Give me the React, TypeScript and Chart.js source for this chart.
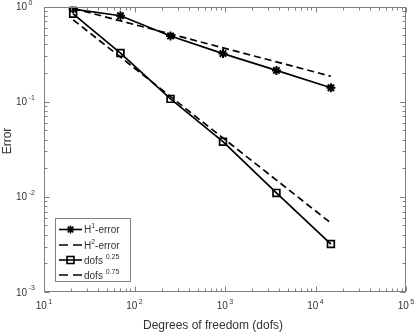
import React, { useEffect, useRef } from "react";
import { Chart, registerables } from "chart.js";

Chart.register(...registerables);

const dofs = [21, 70, 250, 950, 3700, 14800];
const h1Error = [0.94, 0.8, 0.49, 0.32, 0.213, 0.14];
const h2Error = [0.838, 0.324, 0.107, 0.038, 0.011, 0.00319];
const refQuarter = [0.955, 0.706, 0.514, 0.368, 0.262, 0.185];
const refThreeQuarter = [0.724, 0.294, 0.113, 0.0415, 0.015, 0.0053];

const xDecades = [1, 2, 3, 4, 5];
const yDecades = [0, -1, -2, -3];
const xTitle = "Degrees of freedom (dofs)";
const yTitle = "Error";

type Seg = { t: string; sup?: boolean };
const legendItems: { segs: Seg[]; dashed: boolean; marker: string | null }[] = [
  { segs: [{ t: "H" }, { t: "1", sup: true }, { t: "-error" }], dashed: false, marker: "star" },
  { segs: [{ t: "H" }, { t: "2", sup: true }, { t: "-error" }], dashed: true, marker: null },
  { segs: [{ t: "dofs " }, { t: "0.25", sup: true }], dashed: false, marker: "rect" },
  { segs: [{ t: "dofs " }, { t: "0.75", sup: true }], dashed: true, marker: null },
];

const FONT = '"Liberation Sans", Arial, Helvetica, sans-serif';
const TEXT = "#333333";
const AXIS = "#808080";

function drawSegs(ctx: CanvasRenderingContext2D, segs: Seg[], x: number, y: number, size: number, supSize: number, supRise: number) {
  let cx = x;
  ctx.textAlign = "left";
  ctx.textBaseline = "alphabetic";
  for (const s of segs) {
    ctx.font = `${s.sup ? supSize : size}px ${FONT}`;
    ctx.fillText(s.t, cx, s.sup ? y - supRise : y);
    cx += ctx.measureText(s.t).width;
  }
  return cx - x;
}

function segsWidth(ctx: CanvasRenderingContext2D, segs: Seg[], size: number, supSize: number) {
  let w = 0;
  for (const s of segs) {
    ctx.font = `${s.sup ? supSize : size}px ${FONT}`;
    w += ctx.measureText(s.t).width;
  }
  return w;
}

const axesPlugin = {
  id: "matlabAxes",
  afterDraw(chart: any) {
    const ctx: CanvasRenderingContext2D = chart.ctx;
    const xs = chart.scales.x;
    const ys = chart.scales.y;
    const a = chart.chartArea;
    ctx.save();
    ctx.strokeStyle = AXIS;
    ctx.lineWidth = 1;
    const L = Math.round(a.left) + 0.5;
    const R = Math.round(a.right) - 0.5;
    const T = Math.round(a.top) + 0.5;
    const B = Math.round(a.bottom) - 0.5;
    ctx.strokeRect(L, T, R - L, B - T);
    ctx.beginPath();
    for (const e of xDecades) {
      for (let m = 1; m <= 9; m++) {
        if (m > 1 && e === 5) continue;
        const v = m * Math.pow(10, e);
        const px = Math.round(xs.getPixelForValue(v)) + 0.5;
        const len = m === 1 ? 5 : 3;
        ctx.moveTo(px, B);
        ctx.lineTo(px, B - len);
        ctx.moveTo(px, T);
        ctx.lineTo(px, T + len);
      }
    }
    for (const e of [-3, -2, -1]) {
      for (let m = 1; m <= 10; m++) {
        const v = m * Math.pow(10, e);
        const py = Math.round(ys.getPixelForValue(v)) + 0.5;
        const len = m === 1 || m === 10 ? 5 : 3;
        ctx.moveTo(L, py);
        ctx.lineTo(L + len, py);
        ctx.moveTo(R, py);
        ctx.lineTo(R - len, py);
      }
    }
    ctx.stroke();

    ctx.fillStyle = TEXT;
    ctx.textBaseline = "alphabetic";
    for (const e of xDecades) {
      const px = xs.getPixelForValue(Math.pow(10, e));
      const w = segsWidth(ctx, [{ t: "10" }, { t: String(e), sup: true }], 10, 7) + 1.5;
      let x0 = px - w / 2;
      ctx.font = `10px ${FONT}`;
      ctx.textAlign = "left";
      ctx.fillText("10", x0, a.bottom + 17);
      x0 += ctx.measureText("10").width + 1.5;
      ctx.font = `7px ${FONT}`;
      ctx.fillText(String(e), x0, a.bottom + 11.5);
    }
    for (const e of yDecades) {
      const py = ys.getPixelForValue(Math.pow(10, e));
      ctx.font = `10px ${FONT}`;
      ctx.textAlign = "left";
      ctx.fillText("10", 16, py + 3.5);
      const w = ctx.measureText("10").width;
      ctx.font = `7px ${FONT}`;
      ctx.fillText(String(e), 16 + w + 1.5, py - 2);
    }

    ctx.font = `12px ${FONT}`;
    ctx.textAlign = "center";
    ctx.fillText(xTitle, 213, 329);
    ctx.save();
    ctx.translate(10.5, 141);
    ctx.rotate(-Math.PI / 2);
    ctx.fillText(yTitle, 0, 0);
    ctx.restore();

    const bx = 55.5, by = 218.5, bw = 75, bh = 63;
    ctx.fillStyle = "#ffffff";
    ctx.fillRect(bx, by, bw, bh);
    ctx.strokeStyle = AXIS;
    ctx.lineWidth = 1;
    ctx.strokeRect(bx, by, bw, bh);
    const rows = [229.5, 245, 260, 275];
    legendItems.forEach((it, i) => {
      const y = rows[i];
      ctx.strokeStyle = "#000000";
      ctx.lineWidth = 1.6;
      ctx.setLineDash(it.dashed ? [9, 5] : []);
      ctx.beginPath();
      ctx.moveTo(59, y);
      ctx.lineTo(82, y);
      ctx.stroke();
      ctx.setLineDash([]);
      if (it.marker === "star") {
        ctx.beginPath();
        const r = 4;
        for (let k = 0; k < 4; k++) {
          const ang = (k * Math.PI) / 4;
          ctx.moveTo(70.5 - Math.cos(ang) * r, y - Math.sin(ang) * r);
          ctx.lineTo(70.5 + Math.cos(ang) * r, y + Math.sin(ang) * r);
        }
        ctx.stroke();
      } else if (it.marker === "rect") {
        ctx.strokeRect(67, y - 3.5, 7, 7);
      }
      ctx.fillStyle = TEXT;
      drawSegs(ctx, it.segs, 84, y + 3.5, 10, 7, 5);
    });
    ctx.restore();
  },
};

export default function App() {
  const ref = useRef<HTMLCanvasElement | null>(null);
  useEffect(() => {
    document.body.style.margin = "0";
    const canvas = ref.current;
    if (!canvas) return;
    const pts = (ys: number[]) => dofs.map((x, i) => ({ x, y: ys[i] }));
    const chart = new Chart(canvas, {
      type: "line",
      data: {
        datasets: [
          {
            label: "H1-error",
            data: pts(h1Error),
            borderColor: "#000",
            backgroundColor: "#000",
            borderWidth: 1.7,
            pointStyle: "star",
            pointRadius: 4.5,
            pointBorderWidth: 2,
            pointBorderColor: "#000",
          },
          {
            label: "H2-error",
            data: pts(refQuarter),
            borderColor: "#000",
            borderWidth: 1.7,
            borderDash: [7, 4],
            pointRadius: 0,
          },
          {
            label: "dofs 0.25",
            data: pts(h2Error),
            borderColor: "#000",
            borderWidth: 1.7,
            pointStyle: "rect",
            pointRadius: 4.8,
            pointBorderWidth: 1.7,
            pointBorderColor: "#000",
            pointBackgroundColor: "rgba(0,0,0,0)",
          },
          {
            label: "dofs 0.75",
            data: pts(refThreeQuarter),
            borderColor: "#000",
            borderWidth: 1.7,
            borderDash: [7, 4],
            pointRadius: 0,
          },
        ],
      },
      options: {
        responsive: false,
        animation: false,
        layout: { padding: { left: 44, right: 9, top: 6, bottom: 40 } },
        plugins: { legend: { display: false }, tooltip: { enabled: false } },
        scales: {
          x: { type: "logarithmic", min: 10, max: 1e5, display: false },
          y: { type: "logarithmic", min: 1e-3, max: 1, display: false },
        },
      },
      plugins: [axesPlugin],
    });
    return () => chart.destroy();
  }, []);
  return (
    <div style={{ width: 415, height: 332, background: "#fff" }}>
      <canvas ref={ref} width={415} height={332} style={{ display: "block" }} />
    </div>
  );
}
